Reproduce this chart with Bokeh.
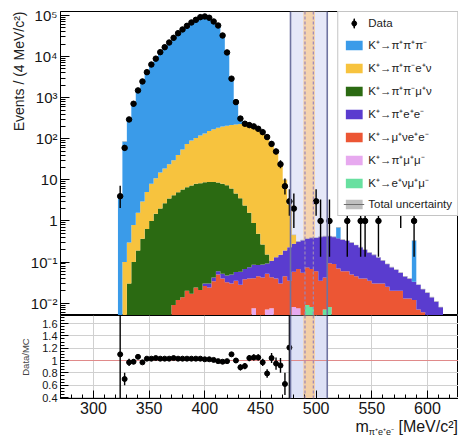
import numpy as np
from bokeh.plotting import figure
from bokeh.layouts import column
from bokeh.models import (Legend, LegendItem, FixedTicker, SingleIntervalTicker, Div,
                          CustomJSTickFormatter, Title, Span, BoxAnnotation, Range1d)
from bokeh.embed import file_html
from bokeh.resources import INLINE

# ------------------------------------------------------------------ data
BIN_WIDTH = 4          # MeV/c^2
FIRST_BIN = 324        # centre of first bin
LAST_BIN = 620

# MC components (events per bin), listed from the first bin centre given
blue_start = 324      # K+ -> pi+ pi+ pi-
blue = [3.6, 86, 304, 723, 1413, 2554, 4044, 6206, 8547, 12412, 16389, 21335, 27470,
        35882, 44314, 54294, 65541, 76109, 88230, 92610, 86120, 70523, 57391, 33067,
        12519, 2420, 556, 118, 20]
blue_tail_bins = [520, 588]
blue_tail = [0.32, 0.3]

yellow_start = 328    # K+ -> pi+ pi- e+ nu
yellow = [0.1, 0.27, 0.7, 1.4, 2.6, 4.4, 7.0, 9.5, 13, 16.3, 20.5, 25.8, 35, 49, 68, 83,
          97, 112, 126, 146, 161, 176, 190, 201, 210, 219, 226, 233, 203, 189, 166, 148,
          120, 75, 50, 26, 9.8, 2.3, 0.18]

green_start = 332     # K+ -> pi+ pi- mu+ nu
green = [0.03, 0.1, 0.19, 0.37, 0.64, 1.0, 1.5, 2.0, 2.7, 3.5, 4.2, 5.0, 5.8, 6.6, 7.3,
         8.0, 8.3, 8.7, 8.8, 8.8, 8.6, 8.0, 7.3, 6.1, 4.6, 3.5, 2.3, 1.5, 0.8, 0.4, 0.18, 0.06]

purple_start = 400    # K+ -> pi+ e+ e-
purple = [0.004, 0.006, 0.008, 0.01, 0.012, 0.015, 0.02, 0.022, 0.03, 0.03, 0.035, 0.045,
          0.04, 0.045, 0.04, 0.065, 0.09, 0.12, 0.145, 0.195, 0.22, 0.25, 0.285, 0.295,
          0.32, 0.33, 0.375, 0.385, 0.335, 0.32, 0.31, 0.29, 0.27, 0.25, 0.215, 0.19, 0.16,
          0.135, 0.12, 0.10, 0.08, 0.065, 0.055, 0.045, 0.035, 0.032, 0.027, 0.021, 0.021,
          0.016, 0.018, 0.014, 0.011, 0.008]

red_start = 372       # K+ -> mu+ nu e+ e-
red = [0.009, 0.012, 0.014, 0.02, 0.017, 0.024, 0.021, 0.026, 0.024, 0.034, 0.05, 0.04,
       0.032, 0.03, 0.035, 0.028, 0.038, 0.04, 0.033, 0.045, 0.042, 0.045, 0.035, 0.04,
       0.03, 0.045, 0.035, 0.05, 0.06, 0.055, 0.065, 0.06, 0.06, 0.035, 0.035, 0.085,
       0.09, 0.07, 0.06, 0.06, 0.05, 0.045, 0.04, 0.04, 0.035, 0.03, 0.03, 0.03, 0.025,
       0.02, 0.02, 0.02, 0.013, 0.013, 0.012, 0.007, 0.006]

pink_bins = [444, 456, 460, 480, 484]          # K+ -> pi+ mu+ mu-
pink = [0.0075, 0.007, 0.0075, 0.008, 0.0075]
mint_bins = [492, 496, 508, 512]               # K+ -> e+ nu mu+ mu-
mint = [0.009, 0.008, 0.007, 0.008]

MC_REL_UNC = 0.02     # total relative MC uncertainty (band)

# data (events per bin)
data_start = 324
data = [4, 60, 295, 710, 1500, 2480, 4170, 6400, 8900, 12800, 16900, 22000, 28600, 37000,
        45700, 56000, 67600, 78500, 91000, 94600, 88000, 71400, 57000, 32600, 12600, 2900,
        780, 310, 232, 215, 200, 175, 145, 110, 75, 49, 24, 7, 3, 2]
data_tail_bins = [500, 504, 512, 528, 540, 544, 556, 576, 588]
data_tail = [3, 1, 1, 1, 1, 1, 1, 2, 1]

# Data / MC ratio
ratio_start = 324
ratio = [1.10, 0.70, 0.97, 0.98, 1.06, 0.97, 1.03, 1.03, 1.04, 1.03, 1.03, 1.03, 1.04, 1.03,
         1.03, 1.03, 1.03, 1.03, 1.03, 1.02, 1.02, 1.01, 0.99, 0.98, 0.99, 1.10, 1.00, 0.89,
         0.91, 1.04, 1.05, 1.05, 0.97, 0.79, 1.04, 0.95, 0.92, 0.62, 1.21]
ratio_err = [1.5, 0.10, 0.06, 0.04, 0.03, 0.025, 0.02, 0.015, 0.015, 0.015, 0.015, 0.015,
             0.015, 0.015, 0.015, 0.015, 0.015, 0.015, 0.015, 0.015, 0.015, 0.015, 0.015,
             0.015, 0.02, 0.03, 0.04, 0.05, 0.05, 0.05, 0.05, 0.05, 0.06, 0.07, 0.08, 0.1,
             0.12, 0.18, 1.5]

signal_window = (477, 510)
mass_window = (488.5, 499)
mass_window_lines = (490, 497.5)

X_RANGE = (270.4, 627.9)
Y_RANGE = (0.005, 1.25e5)
R_RANGE = (0.384, 1.73)

labels = {
    "blue": "K\u207a\u2192\u03c0\u207a\u03c0\u207a\u03c0\u207b",
    "yellow": "K\u207a\u2192\u03c0\u207a\u03c0\u207be\u207a\u03bd",
    "green": "K\u207a\u2192\u03c0\u207a\u03c0\u207b\u03bc\u207a\u03bd",
    "purple": "K\u207a\u2192\u03c0\u207ae\u207ae\u207b",
    "red": "K\u207a\u2192\u03bc\u207a\u03bde\u207ae\u207b",
    "pink": "K\u207a\u2192\u03c0\u207a\u03bc\u207a\u03bc\u207b",
    "mint": "K\u207a\u2192e\u207a\u03bd\u03bc\u207a\u03bc\u207b",
}
colors = {
    "blue": "#3a9be9", "yellow": "#f7c33e", "green": "#2b6a12", "purple": "#5a3ccf",
    "red": "#ec5634", "pink": "#e7a9ef", "mint": "#68e0a0",
}

FONT = "Liberation Sans"

# ------------------------------------------------------------------ helpers
centers = np.arange(FIRST_BIN, LAST_BIN + BIN_WIDTH, BIN_WIDTH)
edges = np.append(centers - BIN_WIDTH / 2, centers[-1] + BIN_WIDTH / 2)


def from_start(start, vals):
    a = np.zeros(len(centers))
    i = (start - FIRST_BIN) // BIN_WIDTH
    a[i:i + len(vals)] = vals
    return a


def from_bins(bins, vals):
    a = np.zeros(len(centers))
    for b, v in zip(bins, vals):
        a[(b - FIRST_BIN) // BIN_WIDTH] += v
    return a


comp = {
    "pink": from_bins(pink_bins, pink),
    "mint": from_bins(mint_bins, mint),
    "red": from_start(red_start, red),
    "purple": from_start(purple_start, purple),
    "green": from_start(green_start, green),
    "yellow": from_start(yellow_start, yellow),
    "blue": from_start(blue_start, blue) + from_bins(blue_tail_bins, blue_tail),
}
stack_order = ["pink", "mint", "red", "purple", "green", "yellow", "blue"]

FRAME_W = 398
LEFT = 60

# ------------------------------------------------------------------ main panel
p = figure(x_range=Range1d(*X_RANGE), y_range=Range1d(*Y_RANGE), y_axis_type="log",
           frame_width=FRAME_W, frame_height=304, min_border_left=LEFT, min_border_right=0,
           min_border_top=11, min_border_bottom=0, output_backend="svg",
           toolbar_location=None, outline_line_color="black", outline_line_width=1)
p.xgrid.visible = False
p.ygrid.visible = False
p.xaxis.visible = False

p.add_layout(BoxAnnotation(left=signal_window[0], right=signal_window[1],
                           fill_color="#e6e8f8", fill_alpha=1, line_color=None, level="underlay"))
p.add_layout(BoxAnnotation(left=mass_window[0], right=mass_window[1],
                           fill_color="#f4d3ae", fill_alpha=1, line_color=None, level="underlay"))

FLOOR = 1e-4
cum = np.zeros(len(centers))
rend = {}
for key in stack_order:
    lo = np.maximum(cum, FLOOR)
    hi = np.maximum(cum + comp[key], FLOOR)
    rend[key] = p.varea_step(x=edges, y1=np.append(lo, lo[-1]), y2=np.append(hi, hi[-1]),
                             step_mode="after", fill_color=colors[key], fill_alpha=1)
    cum = cum + comp[key]

total = np.maximum(cum, FLOOR)
u_lo = np.maximum(total * (1 - MC_REL_UNC), FLOOR)
u_hi = np.maximum(total * (1 + MC_REL_UNC), FLOOR)
unc_band = p.varea_step(x=edges, y1=np.append(u_lo, u_lo[-1]), y2=np.append(u_hi, u_hi[-1]),
                        step_mode="after", fill_color="#bcbcbc", fill_alpha=0.95)
unc_line = p.step(x=edges, y=np.append(total, total[-1]), mode="after",
                  line_color="#6e6e6e", line_width=1.2, visible=False)

for xl in signal_window:
    p.add_layout(Span(location=xl, dimension="height", line_color="#6f73a0", line_width=1.6))
for xl in mass_window_lines:
    p.add_layout(Span(location=xl, dimension="height", line_color="#9a86b8",
                      line_width=1.2, line_dash="3 2"))

dx = list(centers[:len(data)]) + data_tail_bins
dy = list(data) + data_tail
d_lo = [n - np.sqrt(n - 0.25) for n in dy]
d_hi = [n + np.sqrt(n + 0.75) + 1 for n in dy]
p.segment(x0=dx, y0=d_lo, x1=dx, y1=d_hi, line_color="black", line_width=1.4)
# short vertical stub hidden under each marker; gives the legend its error-bar look
bar_r = p.ellipse(x=dx, y=dy, width=0.5, height=5, width_units="screen",
                  height_units="screen", fill_color="black", line_color="black", line_width=1)
data_r = p.scatter(dx, dy, size=5.5, color="black")

decades = [1e-2, 1e-1, 1, 10, 1e2, 1e3, 1e4, 1e5]
p.yaxis.ticker = FixedTicker(ticks=decades,
                             minor_ticks=[m * d for d in [1e-3] + decades for m in range(2, 10)])
p.yaxis.formatter = CustomJSTickFormatter(code="""
const e = Math.round(Math.log10(tick));
if (e === 0) return "1";
if (e === 1) return "10";
const sup = {"-":"\u207b","0":"\u2070","1":"\u00b9","2":"\u00b2","3":"\u00b3","4":"\u2074",
             "5":"\u2075","6":"\u2076","7":"\u2077","8":"\u2078","9":"\u2079"};
return "10" + String(e).split("").map(c => sup[c]).join("");
""")
p.yaxis.major_label_text_font = FONT
p.yaxis.major_label_text_font_size = "15px"
p.yaxis.major_label_text_color = "#151515"
p.yaxis.major_label_standoff = 3
p.yaxis.major_tick_in = 9
p.yaxis.major_tick_out = 0
p.yaxis.minor_tick_in = 5
p.yaxis.minor_tick_out = 0
p.yaxis.axis_line_color = "black"
p.yaxis.major_tick_line_color = "black"
p.yaxis.minor_tick_line_color = "black"

p.add_layout(Title(text="Events / (4 MeV/c\u00b2)", align="right", text_font=FONT,
                   text_font_size="14px", text_font_style="normal", text_color="#222222",
                   standoff=2, offset=0), "left")

items = [LegendItem(label="Data", renderers=[bar_r, data_r])]
for key in ["blue", "yellow", "green", "purple", "red", "pink", "mint"]:
    items.append(LegendItem(label=labels[key], renderers=[rend[key]]))
items.append(LegendItem(label="Total uncertainty", renderers=[unc_band, unc_line]))
legend = Legend(items=items, location="top_right", margin=0, padding=5, spacing=8,
                glyph_width=21, glyph_height=12, label_height=12, label_standoff=4,
                label_text_font=FONT, label_text_font_size="11.5px", label_text_color="#222222",
                border_line_color="#8a8a8a", border_line_width=1, background_fill_alpha=1)
p.add_layout(legend)

# ------------------------------------------------------------------ ratio panel
p2 = figure(x_range=p.x_range, y_range=Range1d(*R_RANGE),
            frame_width=FRAME_W, frame_height=83, min_border_left=LEFT, min_border_right=0,
            min_border_top=0, min_border_bottom=21, output_backend="svg",
            toolbar_location=None, outline_line_color="black", outline_line_width=1)
p2.add_layout(BoxAnnotation(left=signal_window[0], right=signal_window[1],
                            fill_color="#dde1f6", fill_alpha=1, line_color=None, level="underlay"))
p2.add_layout(BoxAnnotation(left=mass_window[0], right=mass_window[1],
                            fill_color="#f3cfa6", fill_alpha=1, line_color=None, level="underlay"))
p2.add_layout(Span(location=1, dimension="width", line_color="#e08a8a", line_width=1,
                   level="underlay"))
for xl in signal_window:
    p2.add_layout(Span(location=xl, dimension="height", line_color="#6f73a0", line_width=1.6))
for xl in mass_window_lines:
    p2.add_layout(Span(location=xl, dimension="height", line_color="#9a86b8",
                       line_width=1.2, line_dash="3 2"))

rx = centers[:len(ratio)]
rv = np.array(ratio)
re = np.array(ratio_err)
p2.segment(x0=rx, y0=rv - re, x1=rx, y1=rv + re, line_color="black", line_width=1.4)
p2.segment(x0=rx - BIN_WIDTH / 2, y0=rv, x1=rx + BIN_WIDTH / 2, y1=rv,
           line_color="black", line_width=1.2)
p2.scatter(rx, rv, size=5, color="black")

xtick = SingleIntervalTicker(interval=50, num_minor_ticks=5)
p2.xaxis.ticker = xtick
p2.xgrid.ticker = xtick
p2.xgrid.grid_line_color = "#d0d0d0"
ry_ticks = [0.4, 0.6, 0.8, 1.0, 1.2, 1.4, 1.6]
p2.yaxis.ticker = FixedTicker(ticks=ry_ticks,
                              minor_ticks=[0.45, 0.5, 0.55, 0.65, 0.7, 0.75, 0.85, 0.9, 0.95,
                                           1.05, 1.1, 1.15, 1.25, 1.3, 1.35, 1.45, 1.5, 1.55,
                                           1.65, 1.7])
p2.ygrid.ticker = FixedTicker(ticks=ry_ticks)
p2.ygrid.grid_line_color = "#d0d0d0"
p2.yaxis.formatter = CustomJSTickFormatter(code="""
return Math.abs(tick - 1) < 1e-6 ? "1" : tick.toFixed(1);
""")
p2.xaxis.major_label_text_font = FONT
p2.xaxis.major_label_text_font_size = "16px"
p2.xaxis.major_label_text_color = "#151515"
p2.xaxis.major_label_standoff = 3
p2.yaxis.major_label_text_font = FONT
p2.yaxis.major_label_text_font_size = "11px"
p2.yaxis.major_label_text_color = "#151515"
p2.yaxis.major_label_standoff = 3
p2.yaxis.axis_label = "Data/MC"
p2.yaxis.axis_label_text_font = FONT
p2.yaxis.axis_label_text_font_size = "9.5px"
p2.yaxis.axis_label_text_font_style = "normal"
p2.yaxis.axis_label_standoff = 8
for ax in (p2.xaxis, p2.yaxis):
    ax.axis_line_color = "black"
    ax.major_tick_line_color = "black"
    ax.minor_tick_line_color = "black"
    ax.major_tick_in = 8
    ax.major_tick_out = 0
    ax.minor_tick_in = 4
    ax.minor_tick_out = 0

xtitle = Div(text=("m<sub style='font-size:9px; vertical-align:-3px;'>\u03c0\u207ae\u207ae\u207b</sub>"
                   " [MeV/c\u00b2]"),
             width=LEFT + FRAME_W, height=16, margin=(0, 0, 0, 0),
             styles={"text-align": "right", "font-family": FONT, "font-size": "16px",
                     "line-height": "16px", "color": "#151515", "white-space": "nowrap"})

layout = column(p, p2, xtitle, spacing=0)
open("out.html", "w").write(file_html(layout, INLINE))
